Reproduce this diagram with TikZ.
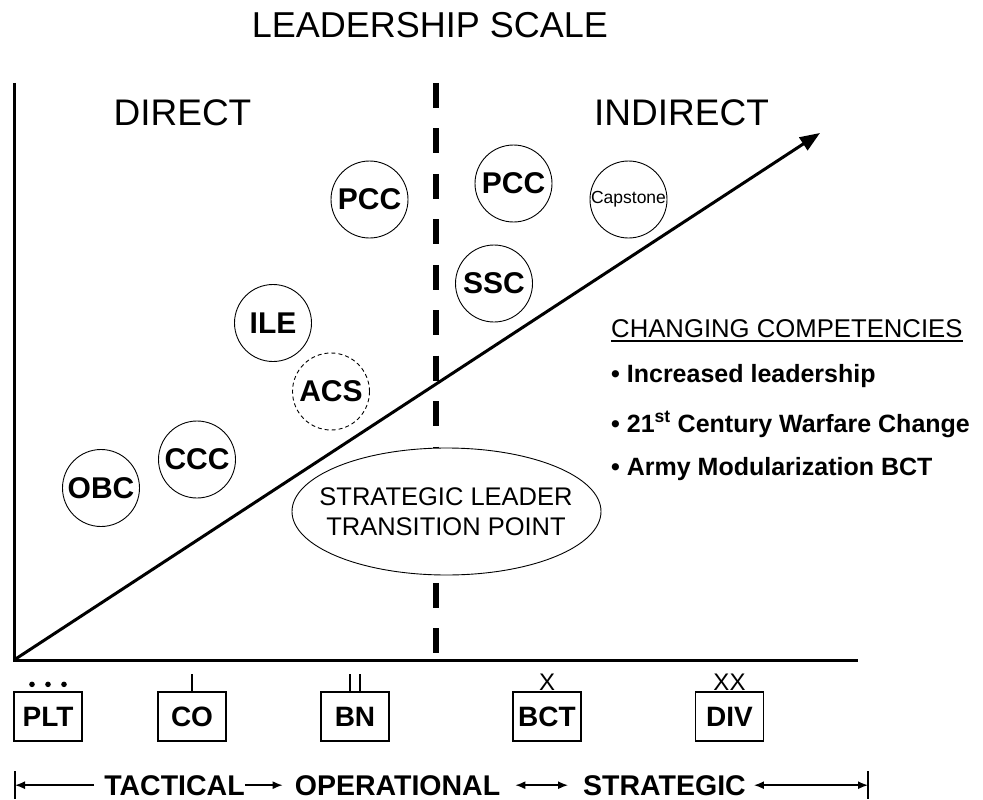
\documentclass[tikz,border=0pt]{standalone}
\usepackage{fontspec}
\setmainfont{Liberation Sans}
\usetikzlibrary{arrows.meta, positioning}

\newcommand\fsz[1]{\fontsize{#1}{#1}\selectfont}

\tikzset{
  course/.style={draw, circle, line width=0.9pt, minimum size=77pt, inner sep=0pt,
    font=\bfseries\fsz{30}},
  unitbox/.style={draw, line width=1.3pt, minimum width=68pt, minimum height=49pt,
    inner sep=0pt, font=\bfseries\fsz{28}},
  echelon/.style={above=0pt of #1, inner sep=1pt, font=\fsz{24}},
  phase/.style={inner sep=0pt, anchor=base, font=\bfseries\fsz{28.5}},
  heading/.style={inner sep=0pt, anchor=base, font=\fsz{37}},
  compitem/.style={inner sep=0pt, anchor=base west, font=\bfseries\fsz{25}},
  span/.style={line width=1.5pt, {Latex[length=10pt,width=8pt]}-{Latex[length=10pt,width=8pt]}},
}

\begin{document}
\begin{tikzpicture}[x=1pt, y=-1pt]
\useasboundingbox (0,0) rectangle (983,800);

% Title
\node [inner sep=0pt, anchor=base, font=\fsz{36}] (title) at (430,38) {LEADERSHIP SCALE};
\node [heading] (direct)   at (182.5,125) {DIRECT};
\node [heading] (indirect) at (681.5,125) {INDIRECT};

% Axes
\coordinate (origin) at (14,660);
\coordinate (tip)    at (820,133);
\draw [line width=3pt] (14,83) -- (origin) -- (858,660);
\draw [line width=3pt, -{Triangle[length=20pt,width=15pt]}] (origin) -- (tip);

% Transition line
\draw [line width=6pt, dash pattern=on 25pt off 20.45pt] (435.5,83) -- (435.5,660);

% Courses
\node [course] (obc)  at (101,488)     {OBC};
\node [course] (ccc)  at (197,459.5)   {CCC};
\node [course] (ile)  at (273,323)     {ILE};
\node [course, dash pattern=on 4pt off 3pt] (acs) at (331,391.5) {ACS};
\node [course] (pccA) at (369.5,199.5) {PCC};
\node [course] (pccB) at (513.5,183.5) {PCC};
\node [course] (ssc)  at (494,283.5)   {SSC};
\node [course, font=\fsz{17.5}] (capstone) at (628.5,199.5) {Capstone};

% Transition point
\draw [fill=white, line width=0.9pt] (446.5,511.5) ellipse [x radius=154.5pt, y radius=63.5pt];
\node [inner sep=0pt, align=center, font=\fontsize{25.5}{30}\selectfont] (transition)
  at (446,511.5) {STRATEGIC LEADER\\TRANSITION POINT};

% Competencies
\node [inner sep=0pt, anchor=base west, font=\fsz{25.7}] (competencies) at (611,337)
  {CHANGING COMPETENCIES};
\draw [line width=1.5pt] ([yshift=-4pt]competencies.base west) -- ([yshift=-4pt]competencies.base east);
\foreach \y/\txt [count=\i] in {382/Increased leadership,
    432/21\textsuperscript{st} Century Warfare Change,
    475/Army Modularization BCT} {
  \node [compitem] (comp\i) at (611,\y) {\textbullet\ \txt};
}

% Units
\foreach \name/\x/\lab in {plt/48/PLT, co/192/CO, bn/355/BN, bct/547/BCT, div/729.5/DIV} {
  \node [unitbox] (\name) at (\x,716.5) {\lab};
}
\foreach \dx in {-16,0,16} {
  \fill ([xshift=\dx pt, yshift=7pt]plt.north) circle (2.8pt);
}
\draw [line width=1.3pt] (co.north) -- ++(0,-17);
\draw [line width=1.3pt] ([xshift=-5pt]bn.north) -- ++(0,-17)
                         ([xshift=5pt]bn.north) -- ++(0,-17);
\node [echelon=bct] (brigade)  {X};
\node [echelon=div] (division) {XX};

% Phases
\node [phase] (tactical)    at (174.5,795) {TACTICAL};
\node [phase] (operational) at (397.5,795) {OPERATIONAL};
\node [phase] (strategic)   at (664.5,795) {STRATEGIC};
\coordinate (lend) at (15,785);
\coordinate (rend) at (868,785);
\draw [line width=1.5pt] ([yshift=14pt]lend) -- ([yshift=-14pt]lend);
\draw [line width=1.5pt] ([yshift=14pt]rend) -- ([yshift=-14pt]rend);
\draw [line width=1.5pt, -{Latex[length=10pt,width=8pt]}, shorten <=10pt]
  (tactical.west) -- (tactical.west -| lend);
\draw [line width=1.5pt, -{Latex[length=10pt,width=8pt]}, shorten >=12pt]
  (tactical.east) -- (operational.west);
\draw [span, shorten <=15pt, shorten >=15pt] (operational.east) -- (strategic.west);
\draw [span, shorten <=8pt] (strategic.east) -- (strategic.east -| rend);

\end{tikzpicture}
\end{document}
